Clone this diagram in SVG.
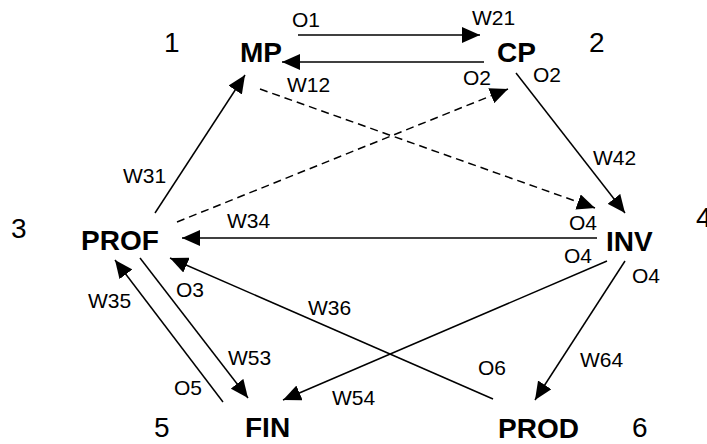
<svg xmlns="http://www.w3.org/2000/svg" width="707" height="444" viewBox="0 0 707 444">
<style>
.node{font-family:"Liberation Sans",Arial,sans-serif;font-weight:bold;font-size:28px;fill:#000}
.num{font-family:"Liberation Sans",Arial,sans-serif;font-size:28px;fill:#000}
.lbl{font-family:"Liberation Sans",Arial,sans-serif;font-size:21px;fill:#000}
.c{stroke:#000;stroke-width:1.5;fill:none;marker-end:url(#ah)}
.d{stroke-dasharray:8 5}
</style>
<defs>
<marker id="ah" markerUnits="userSpaceOnUse" markerWidth="18" markerHeight="16" refX="18" refY="8" orient="auto">
<path d="M0,0 L18,8 L0,16 Z" fill="#000"/>
</marker>
</defs>
<rect width="707" height="444" fill="#fff"/>
<g id="connectors">
<line class="c" x1="298" y1="35" x2="480" y2="35"/>
<line class="c" x1="484" y1="62" x2="282" y2="62"/>
<line class="c" x1="155" y1="213" x2="245" y2="75"/>
<line class="c d" x1="260" y1="89" x2="595" y2="208"/>
<line class="c d" x1="177" y1="222" x2="508" y2="89"/>
<line class="c" x1="516" y1="73" x2="625" y2="213"/>
<line class="c" x1="597" y1="238" x2="182" y2="238"/>
<line class="c" x1="607" y1="261" x2="283" y2="400"/>
<line class="c" x1="625" y1="261" x2="535" y2="400"/>
<line class="c" x1="140" y1="258" x2="248" y2="398"/>
<line class="c" x1="223" y1="402" x2="115" y2="260"/>
<line class="c" x1="493" y1="399" x2="170" y2="258"/>
</g>
<g id="labels">
<text class="lbl" x="292" y="27">O1</text>
<text class="lbl" x="472" y="25">W21</text>
<text class="lbl" x="287" y="92">W12</text>
<text class="lbl" x="463" y="85">O2</text>
<text class="lbl" x="533" y="82">O2</text>
<text class="lbl" x="123" y="183">W31</text>
<text class="lbl" x="227" y="228">W34</text>
<text class="lbl" x="593" y="165">W42</text>
<text class="lbl" x="569" y="230">O4</text>
<text class="lbl" x="564" y="263">O4</text>
<text class="lbl" x="632" y="283">O4</text>
<text class="lbl" x="88" y="308">W35</text>
<text class="lbl" x="176" y="297">O3</text>
<text class="lbl" x="308" y="315">W36</text>
<text class="lbl" x="228" y="365">W53</text>
<text class="lbl" x="174" y="395">O5</text>
<text class="lbl" x="332" y="405">W54</text>
<text class="lbl" x="478" y="375">O6</text>
<text class="lbl" x="580" y="367">W64</text>
</g>
<g id="node-MP"><text class="node" x="240" y="62">MP</text><text class="num" x="164" y="52">1</text></g>
<g id="node-CP"><text class="node" x="497" y="62">CP</text><text class="num" x="589" y="52">2</text></g>
<g id="node-PROF"><text class="node" x="81" y="250">PROF</text><text class="num" x="11" y="238">3</text></g>
<g id="node-INV"><text class="node" x="606" y="251">INV</text><text class="num" x="696" y="227">4</text></g>
<g id="node-FIN"><text class="node" x="245" y="437">FIN</text><text class="num" x="154" y="437">5</text></g>
<g id="node-PROD"><text class="node" x="498" y="438">PROD</text><text class="num" x="632" y="437">6</text></g>
</svg>
